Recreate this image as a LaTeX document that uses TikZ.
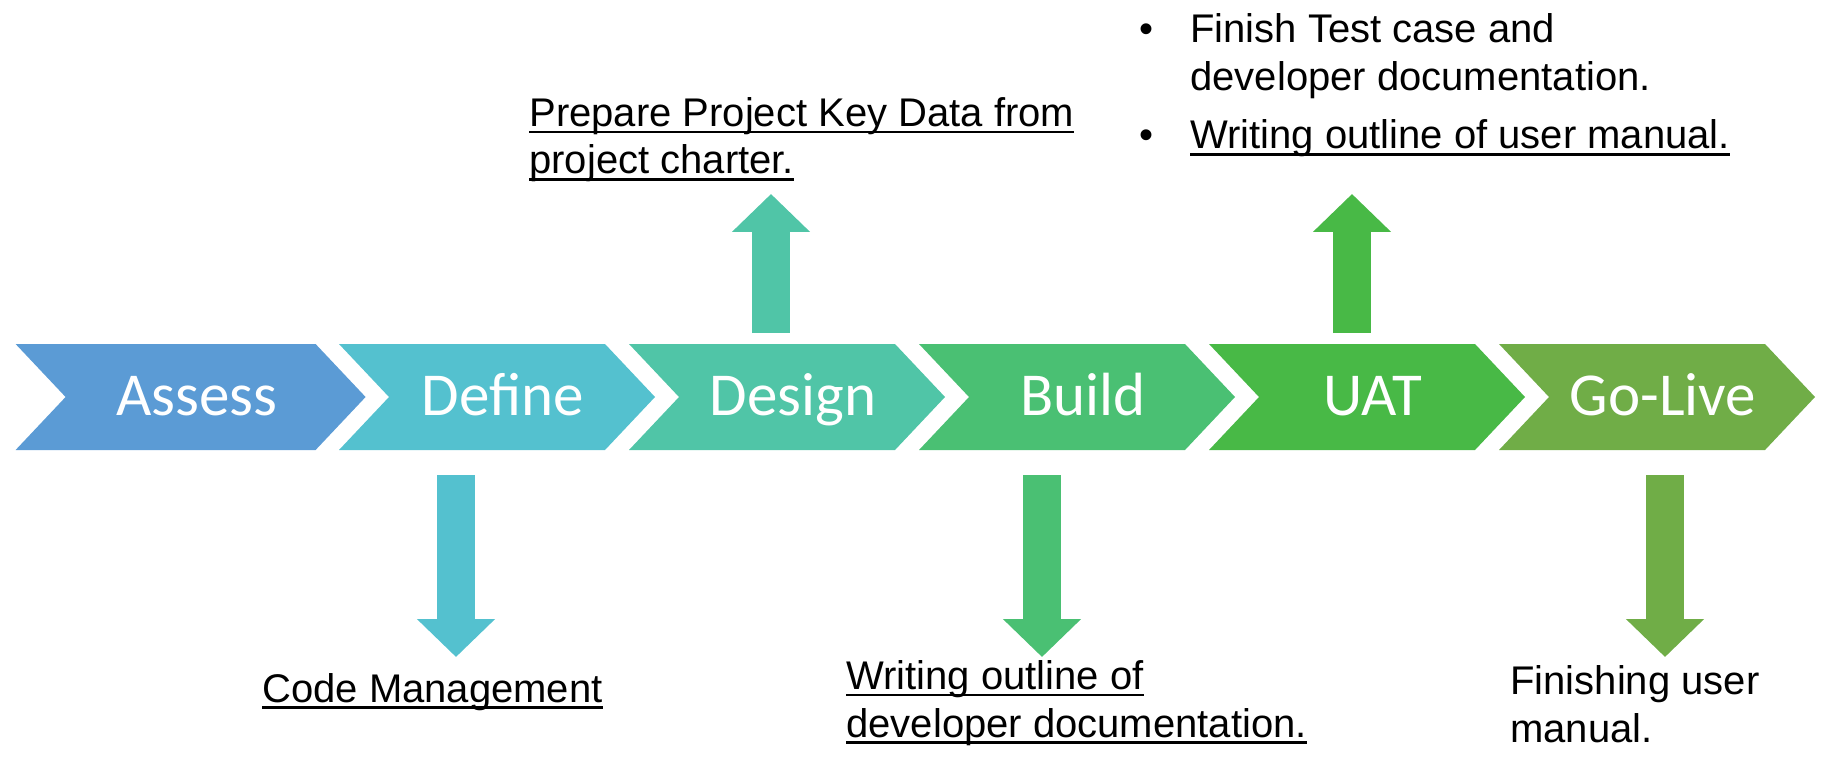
\documentclass[tikz,border=0pt]{standalone}
\usepackage{fontspec}
\setmainfont{Liberation Sans}
\newfontfamily\chevfont{Carlito}
\usetikzlibrary{arrows.meta}

\definecolor{assessc}{RGB}{91,155,213}
\definecolor{definec}{RGB}{84,193,207}
\definecolor{designc}{RGB}{80,197,167}
\definecolor{buildc}{RGB}{74,192,115}
\definecolor{uatc}{RGB}{72,185,70}
\definecolor{golivec}{RGB}{112,173,71}

\newcommand\ulbar[1]{\setbox0\hbox{#1}\rlap{\rule[-3.4pt]{\wd0}{1.3pt}}\box0}

\begin{document}
\begin{tikzpicture}
  [x=0.5pt,y=-0.5pt,
   chev/.style={font=\chevfont\fontsize{30.5pt}{36pt}\selectfont,text=white,anchor=base,inner sep=0},
   note/.style={font=\fontsize{20pt}{23.8pt}\selectfont,align=left,anchor=base west,inner sep=0},
   blockarrow/.style={line width=19pt,-{Triangle[width=38pt,length=19pt]}}]
  \useasboundingbox (0,0) rectangle (1824,770);
  \foreach \nm/\x/\w/\col/\txt in {assess/15.6/350/assessc/Assess,define/339/316/definec/Define,
      design/629/316/designc/Design,build/919/316/buildc/Build,uat/1209/316/uatc/UAT,golive/1499/316/golivec/Go-Live}
  {
    \fill[\col] (\x,344) -- ++(\w-50,0) -- ++(50,53) -- ++(-50,53) -- ++(-\w+50,0) -- ++(50,-53) -- cycle;
    \node[chev] (\nm) at (\x+\w/2+6,415) {\txt};
  }
  % anchor base = baseline of the last line
  \node[note] (keydata) at (529,174) {\ulbar{Prepare Project Key Data from}\\\ulbar{project charter.}};
  \node[note] (testcase) at (1139,149) {\makebox[25.5pt][l]{•}Finish Test case and\\
    \hspace*{25.5pt}developer documentation.\\[5.5pt]
    \makebox[25.5pt][l]{•}\ulbar{Writing outline of user manual.}};
  \node[note] (codemgmt) at (262,702) {\ulbar{Code Management}};
  \node[note] (devoutline) at (846,737) {\ulbar{Writing outline of}\\\ulbar{developer documentation.}};
  \node[note] (usermanual) at (1510,742) {Finishing user\\manual.};
  \coordinate (define-s) at (456,475);
  \coordinate (define-e) at (456,657);
  \coordinate (design-s) at (771,333);
  \coordinate (design-e) at (771,194);
  \coordinate (build-s) at (1042,475);
  \coordinate (build-e) at (1042,657);
  \coordinate (uat-s) at (1352,333);
  \coordinate (uat-e) at (1352,194);
  \coordinate (golive-s) at (1665,475);
  \coordinate (golive-e) at (1665,657);
  \foreach \from/\to/\col in {define-s/define-e/definec,design-s/design-e/designc,build-s/build-e/buildc,
      uat-s/uat-e/uatc,golive-s/golive-e/golivec}
    \draw[blockarrow,\col] (\from) -- (\to);
\end{tikzpicture}
\end{document}
